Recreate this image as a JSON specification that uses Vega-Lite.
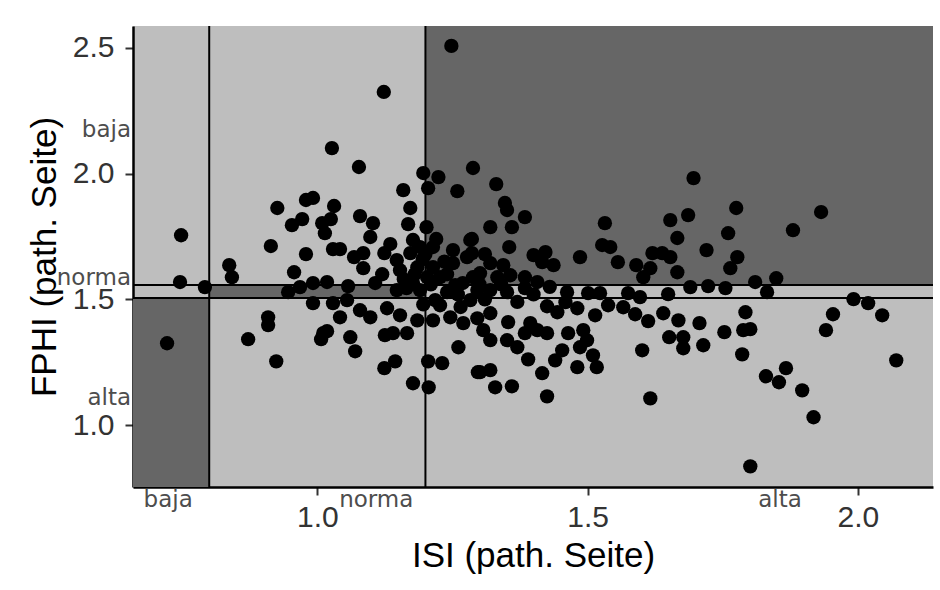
{
  "$schema": "https://vega.github.io/schema/vega-lite/v6.json",
  "width": 800,
  "height": 461,
  "autosize": {"type": "none"},
  "padding": {"left": 133, "top": 26, "right": 7, "bottom": 103},
  "background": "white",
  "config": {
    "view": {"fill": "#bebebe", "stroke": null},
    "axis": {
      "grid": false,
      "domainColor": "black",
      "domainWidth": 2.5,
      "tickColor": "#333333",
      "tickWidth": 2,
      "tickSize": 8,
      "labelFont": "Liberation Sans",
      "labelFontSize": 30,
      "labelColor": "#333333",
      "titleFont": "Liberation Sans",
      "titleFontSize": 35,
      "titleFontWeight": "normal",
      "titleColor": "black"
    },
    "axisX": {"labelPadding": 7, "titlePadding": 6},
    "axisY": {"labelPadding": 11, "titlePadding": 10}
  },
  "datasets": {
    "regions": [
      {"isi": 1.2, "isi2": 2.139, "fphi": 1.557, "fphi2": 2.586},
      {"isi": 0.659, "isi2": 0.8, "fphi": 0.755, "fphi2": 1.506},
      {"isi": 0.8, "isi2": 1.2, "fphi": 1.506, "fphi2": 1.557}
    ],
    "vlines": [{"isi": 0.8}, {"isi": 1.2}],
    "hlines": [{"fphi": 1.506}, {"fphi": 1.557}],
    "ylabels": [
      {"isi": 0.659, "fphi": 2.173, "label": "baja"},
      {"isi": 0.659, "fphi": 1.584, "label": "norma"},
      {"isi": 0.659, "fphi": 1.107, "label": "alta"}
    ],
    "xlabels": [
      {"isi": 0.724, "fphi": 0.755, "label": "baja"},
      {"isi": 1.109, "fphi": 0.755, "label": "norma"},
      {"isi": 1.856, "fphi": 0.755, "label": "alta"}
    ],
    "points": [
      {"isi": 0.722, "fphi": 1.326}, {"isi": 0.748, "fphi": 1.755}, {"isi": 0.746, "fphi": 1.569}, {"isi": 0.792, "fphi": 1.549},
      {"isi": 0.837, "fphi": 1.636}, {"isi": 0.842, "fphi": 1.588}, {"isi": 0.872, "fphi": 1.342}, {"isi": 0.924, "fphi": 1.254},
      {"isi": 0.909, "fphi": 1.429}, {"isi": 0.909, "fphi": 1.398}, {"isi": 0.914, "fphi": 1.712}, {"isi": 0.926, "fphi": 1.863},
      {"isi": 0.953, "fphi": 1.795}, {"isi": 0.972, "fphi": 1.819}, {"isi": 0.957, "fphi": 1.608}, {"isi": 0.946, "fphi": 1.529},
      {"isi": 0.968, "fphi": 1.549}, {"isi": 0.979, "fphi": 1.895}, {"isi": 0.992, "fphi": 1.903}, {"isi": 0.979, "fphi": 1.68},
      {"isi": 0.992, "fphi": 1.565}, {"isi": 0.992, "fphi": 1.485}, {"isi": 1.009, "fphi": 1.803}, {"isi": 1.025, "fphi": 1.819},
      {"isi": 1.014, "fphi": 1.763}, {"isi": 1.031, "fphi": 1.871}, {"isi": 1.027, "fphi": 2.101}, {"isi": 1.077, "fphi": 2.026},
      {"isi": 1.123, "fphi": 2.324}, {"isi": 1.018, "fphi": 1.569}, {"isi": 1.029, "fphi": 1.7}, {"isi": 1.042, "fphi": 1.7},
      {"isi": 1.029, "fphi": 1.485}, {"isi": 1.055, "fphi": 1.497}, {"isi": 1.057, "fphi": 1.553}, {"isi": 1.068, "fphi": 1.668},
      {"isi": 1.085, "fphi": 1.684}, {"isi": 1.085, "fphi": 1.624}, {"isi": 1.079, "fphi": 1.831}, {"isi": 1.103, "fphi": 1.803},
      {"isi": 1.098, "fphi": 1.748}, {"isi": 1.079, "fphi": 1.457}, {"isi": 1.042, "fphi": 1.429}, {"isi": 1.098, "fphi": 1.429},
      {"isi": 1.011, "fphi": 1.366}, {"isi": 1.018, "fphi": 1.374}, {"isi": 1.007, "fphi": 1.342}, {"isi": 1.061, "fphi": 1.35},
      {"isi": 1.07, "fphi": 1.294}, {"isi": 1.107, "fphi": 1.565}, {"isi": 1.124, "fphi": 1.684}, {"isi": 1.147, "fphi": 1.656},
      {"isi": 1.147, "fphi": 1.537}, {"isi": 1.129, "fphi": 1.465}, {"isi": 1.153, "fphi": 1.437}, {"isi": 1.125, "fphi": 1.358},
      {"isi": 1.14, "fphi": 1.366}, {"isi": 1.166, "fphi": 1.366}, {"isi": 1.124, "fphi": 1.227}, {"isi": 1.144, "fphi": 1.254},
      {"isi": 1.159, "fphi": 1.934}, {"isi": 1.172, "fphi": 1.863}, {"isi": 1.168, "fphi": 1.799}, {"isi": 1.177, "fphi": 1.736},
      {"isi": 1.19, "fphi": 1.708}, {"isi": 1.172, "fphi": 1.684}, {"isi": 1.153, "fphi": 1.616}, {"isi": 1.185, "fphi": 1.628},
      {"isi": 1.177, "fphi": 1.565}, {"isi": 1.185, "fphi": 1.417}, {"isi": 1.177, "fphi": 1.167}, {"isi": 1.196, "fphi": 2.002},
      {"isi": 1.205, "fphi": 1.942}, {"isi": 1.224, "fphi": 1.986}, {"isi": 1.202, "fphi": 1.787}, {"isi": 1.214, "fphi": 1.708},
      {"isi": 1.214, "fphi": 1.628}, {"isi": 1.203, "fphi": 1.588}, {"isi": 1.227, "fphi": 1.588}, {"isi": 1.214, "fphi": 1.417},
      {"isi": 1.205, "fphi": 1.254}, {"isi": 1.231, "fphi": 1.247}, {"isi": 1.206, "fphi": 1.151}, {"isi": 1.259, "fphi": 1.93},
      {"isi": 1.288, "fphi": 2.022}, {"isi": 1.248, "fphi": 2.507}, {"isi": 1.251, "fphi": 1.696}, {"isi": 1.283, "fphi": 1.736},
      {"isi": 1.277, "fphi": 1.668}, {"isi": 1.251, "fphi": 1.644}, {"isi": 1.269, "fphi": 1.565}, {"isi": 1.288, "fphi": 1.588},
      {"isi": 1.246, "fphi": 1.429}, {"isi": 1.27, "fphi": 1.406}, {"isi": 1.283, "fphi": 1.497}, {"isi": 1.261, "fphi": 1.31},
      {"isi": 1.297, "fphi": 1.211}, {"isi": 1.19, "fphi": 1.537}, {"isi": 1.24, "fphi": 1.529}, {"isi": 1.255, "fphi": 1.557},
      {"isi": 1.218, "fphi": 1.497}, {"isi": 1.227, "fphi": 1.477}, {"isi": 1.195, "fphi": 1.66}, {"isi": 1.235, "fphi": 1.65},
      {"isi": 1.196, "fphi": 1.48}, {"isi": 1.265, "fphi": 1.47}, {"isi": 1.16, "fphi": 1.58},
      {"isi": 1.18, "fphi": 1.6}, {"isi": 1.21, "fphi": 1.56}, {"isi": 1.165, "fphi": 1.545}, {"isi": 1.2, "fphi": 1.68},
      {"isi": 1.24, "fphi": 1.6}, {"isi": 1.26, "fphi": 1.52}, {"isi": 1.3, "fphi": 1.56}, {"isi": 1.31, "fphi": 1.5},
      {"isi": 1.34, "fphi": 1.56}, {"isi": 1.37, "fphi": 1.49}, {"isi": 1.4, "fphi": 1.52}, {"isi": 1.43, "fphi": 1.55},
      {"isi": 1.12, "fphi": 1.6}, {"isi": 1.135, "fphi": 1.72}, {"isi": 1.22, "fphi": 1.74}, {"isi": 1.31, "fphi": 1.68},
      {"isi": 1.331, "fphi": 1.958}, {"isi": 1.347, "fphi": 1.883}, {"isi": 1.351, "fphi": 1.855}, {"isi": 1.384, "fphi": 1.827},
      {"isi": 1.32, "fphi": 1.787}, {"isi": 1.36, "fphi": 1.787}, {"isi": 1.286, "fphi": 1.74}, {"isi": 1.355, "fphi": 1.708},
      {"isi": 1.286, "fphi": 1.684}, {"isi": 1.32, "fphi": 1.644}, {"isi": 1.344, "fphi": 1.636}, {"isi": 1.301, "fphi": 1.604},
      {"isi": 1.333, "fphi": 1.588}, {"isi": 1.357, "fphi": 1.596}, {"isi": 1.4, "fphi": 1.676}, {"isi": 1.422, "fphi": 1.688},
      {"isi": 1.416, "fphi": 1.648}, {"isi": 1.437, "fphi": 1.636}, {"isi": 1.384, "fphi": 1.588}, {"isi": 1.407, "fphi": 1.569},
      {"isi": 1.296, "fphi": 1.537}, {"isi": 1.32, "fphi": 1.537}, {"isi": 1.351, "fphi": 1.529}, {"isi": 1.384, "fphi": 1.545},
      {"isi": 1.462, "fphi": 1.529}, {"isi": 1.459, "fphi": 1.489}, {"isi": 1.501, "fphi": 1.525}, {"isi": 1.523, "fphi": 1.525},
      {"isi": 1.532, "fphi": 1.803}, {"isi": 1.486, "fphi": 1.668}, {"isi": 1.527, "fphi": 1.716}, {"isi": 1.542, "fphi": 1.708},
      {"isi": 1.556, "fphi": 1.648}, {"isi": 1.59, "fphi": 1.636}, {"isi": 1.616, "fphi": 1.624}, {"isi": 1.603, "fphi": 1.588},
      {"isi": 1.62, "fphi": 1.684}, {"isi": 1.638, "fphi": 1.684}, {"isi": 1.653, "fphi": 1.668}, {"isi": 1.653, "fphi": 1.815},
      {"isi": 1.666, "fphi": 1.744}, {"isi": 1.686, "fphi": 1.835}, {"isi": 1.696, "fphi": 1.982}, {"isi": 1.72, "fphi": 1.696},
      {"isi": 1.666, "fphi": 1.608}, {"isi": 1.69, "fphi": 1.549}, {"isi": 1.723, "fphi": 1.553}, {"isi": 1.755, "fphi": 1.545},
      {"isi": 1.649, "fphi": 1.521}, {"isi": 1.575, "fphi": 1.525}, {"isi": 1.597, "fphi": 1.509}, {"isi": 1.425, "fphi": 1.473},
      {"isi": 1.444, "fphi": 1.449}, {"isi": 1.481, "fphi": 1.465}, {"isi": 1.514, "fphi": 1.437}, {"isi": 1.538, "fphi": 1.477},
      {"isi": 1.566, "fphi": 1.469}, {"isi": 1.588, "fphi": 1.441}, {"isi": 1.612, "fphi": 1.414}, {"isi": 1.64, "fphi": 1.445},
      {"isi": 1.668, "fphi": 1.417}, {"isi": 1.707, "fphi": 1.406}, {"isi": 1.753, "fphi": 1.37}, {"isi": 1.296, "fphi": 1.425},
      {"isi": 1.32, "fphi": 1.445}, {"isi": 1.307, "fphi": 1.378}, {"isi": 1.32, "fphi": 1.338}, {"isi": 1.353, "fphi": 1.41},
      {"isi": 1.351, "fphi": 1.338}, {"isi": 1.37, "fphi": 1.31}, {"isi": 1.394, "fphi": 1.406}, {"isi": 1.384, "fphi": 1.366},
      {"isi": 1.407, "fphi": 1.378}, {"isi": 1.425, "fphi": 1.366}, {"isi": 1.464, "fphi": 1.366}, {"isi": 1.492, "fphi": 1.378},
      {"isi": 1.499, "fphi": 1.338}, {"isi": 1.486, "fphi": 1.31}, {"isi": 1.453, "fphi": 1.298}, {"isi": 1.44, "fphi": 1.258},
      {"isi": 1.39, "fphi": 1.262}, {"isi": 1.481, "fphi": 1.231}, {"isi": 1.51, "fphi": 1.278}, {"isi": 1.517, "fphi": 1.231},
      {"isi": 1.416, "fphi": 1.207}, {"isi": 1.301, "fphi": 1.211}, {"isi": 1.32, "fphi": 1.219}, {"isi": 1.329, "fphi": 1.151},
      {"isi": 1.36, "fphi": 1.155}, {"isi": 1.425, "fphi": 1.115}, {"isi": 1.601, "fphi": 1.298}, {"isi": 1.616, "fphi": 1.107},
      {"isi": 1.651, "fphi": 1.35}, {"isi": 1.677, "fphi": 1.35}, {"isi": 1.677, "fphi": 1.306}, {"isi": 1.714, "fphi": 1.318},
      {"isi": 1.76, "fphi": 1.763}, {"isi": 1.764, "fphi": 1.624}, {"isi": 1.775, "fphi": 1.863}, {"isi": 1.777, "fphi": 1.668},
      {"isi": 1.88, "fphi": 1.775}, {"isi": 1.932, "fphi": 1.847}, {"isi": 1.81, "fphi": 1.569}, {"isi": 1.849, "fphi": 1.584},
      {"isi": 1.832, "fphi": 1.529}, {"isi": 1.992, "fphi": 1.501}, {"isi": 2.019, "fphi": 1.485}, {"isi": 2.045, "fphi": 1.437},
      {"isi": 1.954, "fphi": 1.441}, {"isi": 1.941, "fphi": 1.378}, {"isi": 2.071, "fphi": 1.258}, {"isi": 1.792, "fphi": 1.449},
      {"isi": 1.788, "fphi": 1.378}, {"isi": 1.801, "fphi": 1.382}, {"isi": 1.786, "fphi": 1.282}, {"isi": 1.83, "fphi": 1.195},
      {"isi": 1.854, "fphi": 1.171}, {"isi": 1.867, "fphi": 1.227}, {"isi": 1.897, "fphi": 1.139}, {"isi": 1.918, "fphi": 1.032},
      {"isi": 1.801, "fphi": 0.837}
    ]
  },
  "layer": [
    {
      "data": {"name": "regions"},
      "mark": {"type": "rect", "color": "#666666"},
      "encoding": {
        "x": {"field": "isi", "type": "quantitative", "scale": {"domain": [0.659, 2.139], "nice": false, "zero": false}, "axis": {"values": [1.0, 1.5, 2.0], "format": ".1f"}, "title": "ISI (path. Seite)"},
        "x2": {"field": "isi2"},
        "y": {"field": "fphi", "type": "quantitative", "scale": {"domain": [0.755, 2.586], "nice": false, "zero": false}, "axis": {"values": [1.0, 1.5, 2.0, 2.5], "format": ".1f"}, "title": "FPHI (path. Seite)"},
        "y2": {"field": "fphi2"}
      }
    },
    {
      "data": {"name": "vlines"},
      "mark": {"type": "rule", "color": "black", "strokeWidth": 2},
      "encoding": {
        "x": {"field": "isi", "type": "quantitative", "title": "ISI (path. Seite)"}
      }
    },
    {
      "data": {"name": "hlines"},
      "mark": {"type": "rule", "color": "black", "strokeWidth": 2},
      "encoding": {
        "y": {"field": "fphi", "type": "quantitative", "title": "FPHI (path. Seite)"}
      }
    },
    {
      "data": {"name": "points"},
      "mark": {"type": "circle", "size": 205, "color": "black", "opacity": 1},
      "encoding": {
        "x": {"field": "isi", "type": "quantitative", "title": "ISI (path. Seite)"},
        "y": {"field": "fphi", "type": "quantitative", "title": "FPHI (path. Seite)"}
      }
    },
    {
      "data": {"name": "ylabels"},
      "mark": {"type": "text", "align": "right", "baseline": "middle", "dx": -2, "font": "DejaVu Sans", "fontSize": 23, "color": "#4d4d4d"},
      "encoding": {
        "x": {"field": "isi", "type": "quantitative", "title": "ISI (path. Seite)"},
        "y": {"field": "fphi", "type": "quantitative", "title": "FPHI (path. Seite)"},
        "text": {"field": "label"}
      }
    },
    {
      "data": {"name": "xlabels"},
      "mark": {"type": "text", "align": "center", "baseline": "middle", "dy": 13, "font": "DejaVu Sans", "fontSize": 23, "color": "#4d4d4d"},
      "encoding": {
        "x": {"field": "isi", "type": "quantitative", "title": "ISI (path. Seite)"},
        "y": {"field": "fphi", "type": "quantitative", "title": "FPHI (path. Seite)"},
        "text": {"field": "label"}
      }
    }
  ]
}
